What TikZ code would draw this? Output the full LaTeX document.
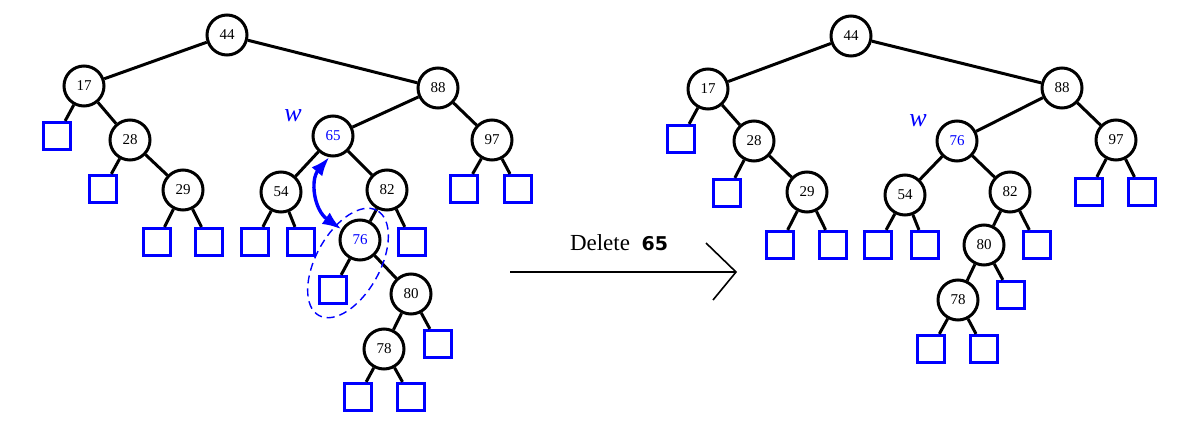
\documentclass[tikz,border=0pt]{standalone}
\usepackage{fontspec}
\setmainfont{Liberation Serif}
\newfontfamily\sansb{DejaVu Sans}
\usetikzlibrary{arrows.meta,shapes.geometric}
\begin{document}
\begin{tikzpicture}[x=1pt,y=-1pt,
  circ/.style={circle, draw, line width=3pt, minimum size=40pt, inner sep=0pt, fill=white, font=\fontsize{15}{15}\selectfont},
  bcirc/.style={circ, text=blue},
  leaf/.style={rectangle, draw=blue, line width=3.2pt, minimum size=27pt, inner sep=0pt},
  edge/.style={line width=3pt},
  wlab/.style={text=blue, font=\fontsize{26}{26}\selectfont\itshape}]
\useasboundingbox (0,0) rectangle (1188,425);
% ---------- left tree ----------
\node[circ] (a44) at (227,35) {44};
\node[circ] (a17) at (84,86) {17};
\node[circ] (a88) at (438,88) {88};
\node[circ] (a28) at (130,140) {28};
\node[circ] (a29) at (183,190) {29};
\node[bcirc] (a65) at (333,136) {65};
\node[circ] (a97) at (492,140) {97};
\node[circ] (a54) at (281,192) {54};
\node[circ] (a82) at (387,190) {82};
\node[bcirc] (a76) at (360,240) {76};
\node[circ] (a80) at (411,294) {80};
\node[circ] (a78) at (384,349) {78};
\node[leaf] (al1) at (57,136) {};
\node[leaf] (al2) at (103,189) {};
\node[leaf] (al3) at (157,242) {};
\node[leaf] (al4) at (209,242) {};
\node[leaf] (al5) at (255,242) {};
\node[leaf] (al6) at (301,242) {};
\node[leaf] (al7) at (333,290) {};
\node[leaf] (al8) at (412,242) {};
\node[leaf] (al9) at (464,189) {};
\node[leaf] (al10) at (518,189) {};
\node[leaf] (al11) at (438,344) {};
\node[leaf] (al12) at (358,397) {};
\node[leaf] (al13) at (411,397) {};
\foreach \p/\c in {a44/a17,a44/a88,a17/al1,a17/a28,a28/al2,a28/a29,a29/al3,a29/al4,
  a88/a65,a88/a97,a65/a54,a65/a82,a54/al5,a54/al6,a82/a76,a82/al8,a76/al7,a76/a80,
  a80/a78,a80/al11,a78/al12,a78/al13,a97/al9,a97/al10}
  \draw[edge] (\p) -- (\c);
\node[wlab] (aw) at (293,116) {w};
\node[ellipse, draw=blue, dash pattern=on 8pt off 5pt, line width=1.4pt,
  minimum width=120pt, minimum height=64pt, rotate=61] (ell) at (348,263) {};
\draw[blue, line width=3.4pt, {Latex[length=19pt,width=14pt]}-{Latex[length=19pt,width=14pt]}]
  (a65.-100) .. controls (310,180) and (314,210) .. (a76.150);
% ---------- arrow ----------
\coordinate (s) at (510,272);
\coordinate (t) at (736,272);
\coordinate (h1) at (706,243);
\coordinate (h2) at (713,300);
\draw[line width=1.6pt] (s) -- (t);
\draw[line width=1.6pt] (h1) -- (t) -- (h2);
\node[font=\fontsize{23}{23}\selectfont] (dl) at (619,243) {Delete\ \ {\sansb\bfseries\fontsize{19}{19}\selectfont 65}};
% ---------- right tree ----------
\node[circ] (b44) at (851,36) {44};
\node[circ] (b17) at (708,89) {17};
\node[circ] (b88) at (1062,88) {88};
\node[circ] (b28) at (754,141) {28};
\node[circ] (b29) at (807,192) {29};
\node[bcirc] (b76) at (957,141) {76};
\node[circ] (b97) at (1116,140) {97};
\node[circ] (b54) at (905,195) {54};
\node[circ] (b82) at (1010,192) {82};
\node[circ] (b80) at (984,245) {80};
\node[circ] (b78) at (958,300) {78};
\node[leaf] (bl1) at (681,139) {};
\node[leaf] (bl2) at (727,193) {};
\node[leaf] (bl3) at (780,245) {};
\node[leaf] (bl4) at (833,245) {};
\node[leaf] (bl5) at (878,245) {};
\node[leaf] (bl6) at (925,245) {};
\node[leaf] (bl7) at (1037,245) {};
\node[leaf] (bl8) at (1089,192) {};
\node[leaf] (bl9) at (1142,192) {};
\node[leaf] (bl10) at (1011,295) {};
\node[leaf] (bl11) at (931,349) {};
\node[leaf] (bl12) at (984,349) {};
\foreach \p/\c in {b44/b17,b44/b88,b17/bl1,b17/b28,b28/bl2,b28/b29,b29/bl3,b29/bl4,
  b88/b76,b88/b97,b76/b54,b76/b82,b54/bl5,b54/bl6,b82/b80,b82/bl7,b80/b78,b80/bl10,
  b78/bl11,b78/bl12,b97/bl8,b97/bl9}
  \draw[edge] (\p) -- (\c);
\node[wlab] (bw) at (918,121) {w};
\end{tikzpicture}
\end{document}
